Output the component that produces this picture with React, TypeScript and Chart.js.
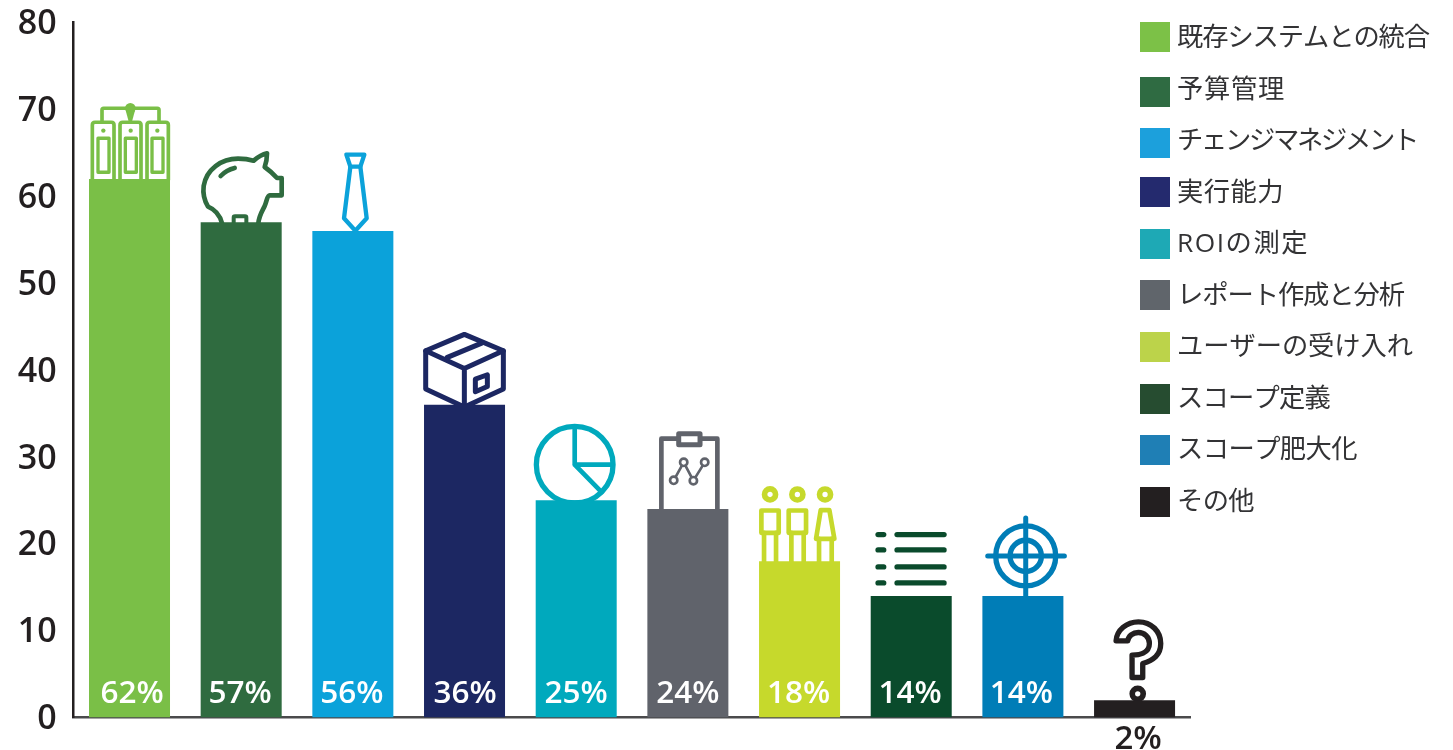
import React, { useEffect, useRef } from "react";
import { Chart, registerables } from "chart.js";

Chart.register(...registerables);

// Survey results: share of respondents naming each challenge.
const categories = [
  "既存システムとの統合",
  "予算管理",
  "チェンジマネジメント",
  "実行能力",
  "ROIの測定",
  "レポート作成と分析",
  "ユーザーの受け入れ",
  "スコープ定義",
  "スコープ肥大化",
  "その他",
];
const values = [62, 57, 56, 36, 25, 24, 18, 14, 14, 2];
const barColors = [
  "#7abf47", "#2f6b3f", "#0ba2da", "#1c2762", "#00a9bd",
  "#60636b", "#c6d92c", "#0a4b2c", "#007db7", "#231f20",
];
const swatchColors = [
  "#7cc147", "#2f6b42", "#1ca0dc", "#242a6e", "#1ea9b5",
  "#60656b", "#bcd34a", "#264c30", "#1f7fb5", "#231f20",
];
const yTicks = [0, 10, 20, 30, 40, 50, 60, 70, 80];

const INK = "#231f20";
const LATIN = '"Open Sans", "Noto Sans CJK JP", sans-serif';

// Legend layout, in canvas pixels.
const swatchTops = [22, 77, 128, 177, 229, 280, 332, 384, 435, 487];
const legendTextEnds = [1428, 1284, 1416, 1283, 1308, 1403, 1412, 1329, 1356, 1253];
const legendTextStart = 39;
const legendTextStep = 51.5;

// Small horizontal nudges of the percentage labels relative to their bars.
const labelNudges = [2.5, -1, -1, 0.5, 0, 0, -1, -1, -1.5, 3.5];

type Shape = { d: string; w?: number; fill?: boolean; white?: boolean };
type Icon = { ax: number; ay: number; shapes: Shape[] };

const ring = (cx: number, cy: number, r: number) =>
  `M${cx - r} ${cy}A${r} ${r} 0 1 0 ${cx + r} ${cy}A${r} ${r} 0 1 0 ${cx - r} ${cy}Z`;
const hline = (x1: number, x2: number, y: number) => `M${x1} ${y}H${x2}`;

// Pictograms standing on each bar, authored at 3x scale around a bar-top anchor (ax, ay).
const icons: Icon[] = [
  {
    ax: 208.5, ay: 267,
    shapes: [
      { d: "M97 270V105Q97 97 105 97H154Q162 97 162 105V270", w: 11 },
      { d: "M180 270V105Q180 97 188 97H235Q243 97 243 105V270", w: 11 },
      { d: "M261 270V105Q261 97 269 97H317Q325 97 325 105V270", w: 11 },
      { d: "M114 145H147V247H114Z", w: 10 },
      { d: "M196 145H229V247H196Z", w: 10 },
      { d: "M276 145H309V247H276Z", w: 10 },
      { d: ring(130, 122, 6.5), fill: true },
      { d: ring(212, 122, 6.5), fill: true },
      { d: ring(292, 122, 6.5), fill: true },
      { d: "M126 92V60Q126 55 131 55H292Q297 55 297 60V92", w: 11 },
      { d: ring(211, 55, 16), fill: true },
      { d: "M197 62L225 62L216 95H206Z", fill: true },
    ],
  },
  {
    ax: 544.5, ay: 399,
    shapes: [
      { d: "M487 402C480 375 465 360 445 352C432 330 430 305 432 290C440 240 485 208 535 208C552 208 568 210 582 214C595 203 608 195 622 192C622 205 620 220 615 233C632 245 645 258 652 266H666V318H630C622 318 622 335 615 350C608 365 598 378 596 402", w: 14 },
      { d: "M522 402V385Q522 381 526 381H556Q560 381 560 385V402", w: 12 },
      { d: "M483 260Q500 242 525 236", w: 14 },
    ],
  },
  {
    ax: 880.5, ay: 423,
    shapes: [
      { d: "M861 194H915L903 230H873Z", w: 13 },
      { d: "M873 230L854 385L888 422L922 385L903 230", w: 13 },
    ],
  },
  {
    ax: 163.5, ay: 255,
    shapes: [
      { d: "M163 44L280 93V208L163 262L47 208V93Z", w: 15 },
      { d: "M47 93L163 146L280 93M163 146V262", w: 15 },
      { d: "M112 113L215 70", w: 15 },
      { d: "M196 178L232 165V200L196 216Z", w: 15 },
    ],
  },
  {
    ax: 499.5, ay: 540,
    shapes: [
      { d: ring(495, 433, 115), w: 16 },
      { d: "M495 325V433H605M495 433L575 515", w: 14 },
    ],
  },
  {
    ax: 835.5, ay: 567,
    shapes: [
      { d: "M756 570V356H924V570", w: 14 },
      { d: "M808 341H872V374H808Z", w: 15, white: true },
      { d: "M793 481L823 427L852 482L886 427", w: 8 },
      { d: ring(793, 481, 11), w: 8, white: true },
      { d: ring(823, 427, 11), w: 8, white: true },
      { d: ring(852, 482, 11), w: 8, white: true },
      { d: ring(886, 427, 11), w: 8, white: true },
    ],
  },
  {
    ax: 163.5, ay: 273,
    shapes: [
      { d: ring(75, 73, 16.5), w: 17 },
      { d: ring(157, 73, 16.5), w: 17 },
      { d: ring(240, 73, 16.5), w: 17 },
      { d: "M49 121H101V188H49Z", w: 14 },
      { d: "M131 121H183V188H131Z", w: 14 },
      { d: "M227 120H253L268 206H213Z", w: 14 },
      { d: "M57 188V276M93 188V276M139 188V276M176 188V276M222 206V276M260 206V276", w: 14 },
    ],
  },
  {
    ax: 499.5, ay: 378,
    shapes: [
      ...[194, 240, 291, 339].flatMap((y) => [
        { d: hline(400, 417, y), w: 16 },
        { d: hline(457, 598, y), w: 16 },
      ]),
    ],
  },
  {
    ax: 835.5, ay: 378,
    shapes: [
      { d: ring(844, 258, 90), w: 16 },
      { d: ring(844, 258, 47), w: 16 },
      { d: "M844 144V380M730 258H960", w: 15 },
    ],
  },
  {
    ax: 223.5, ay: 300,
    shapes: [
      { d: "M168 122C170 90 200 65 235 65C275 65 302 95 302 130C302 165 280 180 248 190V232H216V165C235 165 268 160 268 130C268 110 252 97 235 97C218 97 205 108 203 122Z", w: 16 },
      { d: ring(233, 281, 16.5), w: 17 },
    ],
  },
];

const pictograms = {
  id: "pictograms",
  beforeDatasetsDraw(chart: any) {
    const { ctx } = chart;
    chart.getDatasetMeta(0).data.forEach((bar: any, i: number) => {
      const icon = icons[i];
      ctx.save();
      ctx.translate(bar.x, bar.y);
      ctx.scale(1 / 3, 1 / 3);
      ctx.translate(-icon.ax, -icon.ay);
      ctx.lineCap = "round";
      ctx.lineJoin = "round";
      ctx.strokeStyle = barColors[i];
      ctx.fillStyle = barColors[i];
      for (const s of icon.shapes) {
        const p = new Path2D(s.d);
        if (s.fill) {
          ctx.fill(p);
          continue;
        }
        if (s.white) {
          ctx.fillStyle = "#fff";
          ctx.fill(p);
          ctx.fillStyle = barColors[i];
        }
        ctx.lineWidth = s.w ?? 10;
        ctx.stroke(p);
      }
      ctx.restore();
    });
  },
};

// Percentage labels: inside the foot of each bar, below the axis when the bar is too short.
const valueLabels = {
  id: "valueLabels",
  afterDatasetsDraw(chart: any) {
    const { ctx, scales } = chart;
    ctx.save();
    ctx.textAlign = "center";
    ctx.textBaseline = "alphabetic";
    chart.getDatasetMeta(0).data.forEach((bar: any, i: number) => {
      const v = values[i];
      const inside = v >= 10;
      ctx.font = `600 ${inside ? 31.5 : 33}px ${LATIN}`;
      ctx.fillStyle = inside ? "#fff" : INK;
      ctx.fillText(`${v}%`, bar.x + labelNudges[i], scales.y.bottom + (inside ? -15 : 31));
    });
    ctx.restore();
  },
};

// Swatch column and labels; each label is tracked out or in to its measured end.
const sideLegend = {
  id: "sideLegend",
  afterDraw(chart: any) {
    const { ctx } = chart;
    ctx.save();
    ctx.font = `26.3px ${LATIN}`;
    ctx.textAlign = "left";
    ctx.textBaseline = "middle";
    const x = 1177;
    categories.forEach((label, i) => {
      ctx.fillStyle = swatchColors[i];
      ctx.fillRect(1140, swatchTops[i], 30, 30);
      ctx.fillStyle = "#333335";
      ctx.letterSpacing = "0px";
      const natural = ctx.measureText(label).width;
      ctx.letterSpacing = `${(legendTextEnds[i] + 1 - x - natural) / label.length}px`;
      ctx.fillText(label, x, legendTextStart + i * legendTextStep);
    });
    ctx.restore();
  },
};

export default function App() {
  const ref = useRef<HTMLCanvasElement>(null);

  useEffect(() => {
    const chart = new Chart(ref.current!, {
      type: "bar",
      data: {
        labels: categories,
        datasets: [
          {
            data: values,
            backgroundColor: barColors,
            barPercentage: 0.7254,
            categoryPercentage: 1,
          },
        ],
      },
      options: {
        animation: false,
        responsive: false,
        layout: { padding: { top: 22.5, right: 262.6, bottom: 0, left: 0 } },
        plugins: { legend: { display: false }, tooltip: { enabled: false } },
        scales: {
          x: {
            grid: { display: false, drawTicks: false },
            border: { color: "#4a4a4c", width: 2.5 },
            ticks: { display: false },
            afterFit: (s: any) => {
              s.height = 32.5;
              s.paddingLeft = 0;
              s.paddingRight = 0;
            },
          },
          y: {
            min: 0,
            max: 80,
            afterBuildTicks: (s: any) => {
              s.ticks = yTicks.map((value) => ({ value }));
            },
            grid: { display: false, drawTicks: false },
            border: { color: INK, width: 2.5 },
            ticks: {
              padding: 17,
              labelOffset: 2,
              color: INK,
              font: { family: LATIN, size: 34, weight: 600 },
            },
            afterFit: (s: any) => {
              s.width = 73.67;
              s.paddingTop = 0;
              s.paddingBottom = 0;
            },
          },
        },
      },
      plugins: [pictograms, valueLabels, sideLegend],
    } as any);
    return () => chart.destroy();
  }, []);

  return (
    <canvas
      ref={ref}
      width={1453}
      height={750}
      style={{ position: "fixed", left: 0, top: 0, display: "block" }}
    />
  );
}
